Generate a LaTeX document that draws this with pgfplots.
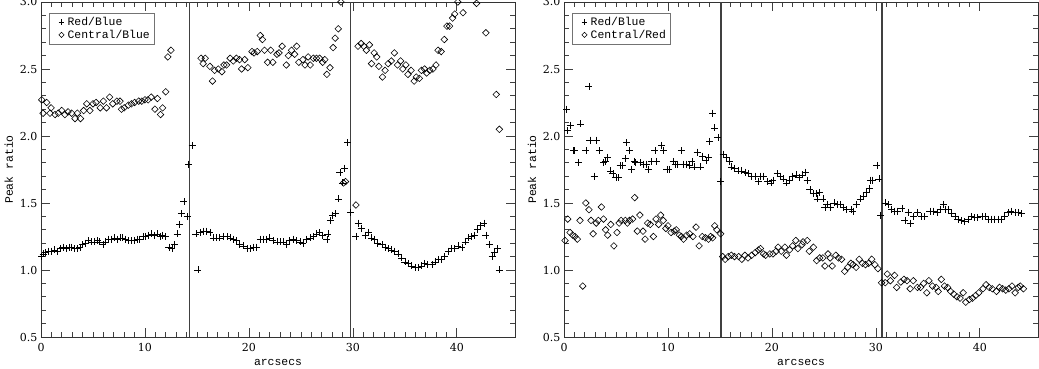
\documentclass[border=0pt]{standalone}
\usepackage{pgfplots}
\pgfplotsset{compat=1.18}
\usepackage{fontspec}
\setmainfont{Liberation Mono}
\newfontfamily\tickfont{DejaVu Serif}

\pgfplotsset{
  peak/.style={
    scale only axis, width=474pt, height=335pt,
    xmin=0, xmax=45.6, ymin=0.5, ymax=3.0,
    xtick={0,10,20,30,40}, minor x tick num=9,
    ytick={0.5,1,1.5,2,2.5,3}, minor y tick num=4,
    tick align=inside, xtick pos=both, ytick pos=both,
    major tick length=9pt, minor tick length=5pt,
    axis line style={black!80, line width=0.6pt},
    every tick/.style={black!75, line width=0.6pt},
    /pgf/number format/assume math mode=true,
    yticklabel style={/pgf/number format/.cd, fixed, fixed zerofill, precision=1},
    xticklabel style={yshift=-3pt},
    tick label style={font=\tickfont\fontsize{11}{13}\selectfont},
    label style={font=\fontsize{11.4}{13}\selectfont},
    xlabel={arcsecs}, ylabel={Peak ratio},
    xlabel style={yshift=-1pt},
    legend cell align=left,
    legend style={at={(0.017,0.967)}, anchor=north west, draw=black!55,
      font=\fontsize{11.4}{13}\selectfont, inner xsep=3pt, inner ysep=3pt,
      row sep=1pt, nodes={inner sep=1pt},
      /tikz/every even column/.append style={column sep=1pt}},
    legend image code/.code={\path (-4pt,0pt) (10pt,0pt);
      \draw[mark repeat=2,mark phase=2,#1,every mark/.append style={scale=0.8}]
      plot coordinates {(0pt,0pt)(5pt,0pt)(10pt,0pt)};},
  },
  rb/.style={only marks, mark=+, mark size=3.5pt, black, mark options={line width=0.6pt}},
  cd/.style={only marks, mark=diamond, mark size=3.3pt, black, mark options={xscale=1.33, line width=0.6pt}},
  sep/.style={black!75, line width=1.3pt, forget plot},
}

\begin{document}
\begin{tikzpicture}
% left panel
\begin{axis}[peak, at={(41pt,32pt)}, anchor=south west]
\addplot[rb] coordinates {
 (0.05,1.10)(0.2,1.12)(0.45,1.13)(0.75,1.14)(1.0,1.14)(1.3,1.15)(1.55,1.14)(1.85,1.16)
 (2.1,1.17)(2.4,1.16)(2.7,1.17)(2.95,1.17)(3.2,1.16)(3.5,1.16)(3.75,1.17)(4.0,1.19)
 (4.3,1.20)(4.55,1.22)(4.85,1.21)(5.1,1.21)(5.4,1.22)(5.65,1.21)(5.95,1.19)(6.2,1.21)
 (6.5,1.23)(6.75,1.23)(7.05,1.24)(7.3,1.23)(7.6,1.24)(7.85,1.24)(8.15,1.23)(8.4,1.22)
 (8.7,1.22)(8.95,1.22)(9.25,1.23)(9.5,1.23)(9.8,1.25)(10.05,1.25)(10.35,1.26)(10.6,1.27)
 (10.9,1.26)(11.15,1.27)(11.45,1.25)(11.7,1.26)(12.0,1.25)(12.3,1.17)(12.6,1.16)(12.85,1.19)
 (13.1,1.27)(13.35,1.34)(13.5,1.42)(13.75,1.51)(14.05,1.40)(14.2,1.79)(14.55,1.93)
 (14.9,1.27)(15.1,1.00)(15.3,1.28)(15.6,1.29)(15.9,1.29)(16.25,1.28)(16.6,1.24)(16.9,1.24)
 (17.2,1.24)(17.5,1.25)(17.9,1.25)(18.2,1.24)(18.5,1.23)(18.8,1.22)(19.1,1.19)(19.5,1.18)
 (19.8,1.16)(20.1,1.16)(20.4,1.17)(20.7,1.17)(21.1,1.23)(21.4,1.23)(21.7,1.23)(22.0,1.24)
 (22.3,1.22)(22.7,1.21)(23.0,1.21)(23.3,1.21)(23.6,1.19)(23.9,1.22)(24.3,1.23)(24.6,1.22)
 (24.9,1.21)(25.2,1.20)(25.5,1.23)(25.9,1.24)(26.2,1.25)(26.5,1.27)(26.8,1.28)(27.1,1.26)
 (27.5,1.23)(27.6,1.27)(27.85,1.37)(28.05,1.41)(28.3,1.42)(28.6,1.53)(28.75,1.73)(29.0,1.65)
 (29.2,1.76)(29.5,1.95)(29.8,1.43)
 (30.3,1.25)(30.5,1.35)(30.8,1.31)(31.2,1.26)(31.5,1.28)(31.8,1.24)(32.1,1.23)(32.4,1.20)
 (32.8,1.19)(33.1,1.17)(33.4,1.16)(33.7,1.15)(34.0,1.14)(34.4,1.12)(34.7,1.09)(35.0,1.06)
 (35.3,1.05)(35.6,1.03)(36.0,1.02)(36.3,1.02)(36.6,1.03)(36.9,1.05)(37.2,1.04)(37.6,1.04)
 (37.9,1.06)(38.2,1.08)(38.5,1.08)(38.8,1.10)(39.2,1.14)(39.5,1.16)(39.8,1.16)(40.1,1.18)
 (40.5,1.17)(40.8,1.21)(41.1,1.24)(41.4,1.25)(41.7,1.26)(42.0,1.30)(42.3,1.33)(42.6,1.35)
 (42.8,1.26)(43.1,1.19)(43.4,1.10)(43.6,1.13)(43.9,1.16)(44.1,1.00)
};
\addplot[cd] coordinates {
 (0.07,2.27)(0.2,2.17)(0.55,2.25)(0.87,2.17)(0.97,2.21)(1.35,2.16)(1.66,2.17)(1.99,2.19)
 (2.3,2.16)(2.6,2.18)(2.95,2.17)(3.27,2.13)(3.5,2.17)(3.8,2.13)(4.1,2.19)(4.4,2.24)
 (4.7,2.19)(5.0,2.24)(5.3,2.25)(5.7,2.21)(6.0,2.26)(6.3,2.21)(6.6,2.29)(6.9,2.24)
 (7.3,2.26)(7.6,2.26)(7.75,2.20)(8.0,2.21)(8.4,2.23)(8.7,2.24)(9.0,2.25)(9.4,2.26)
 (9.7,2.26)(10.0,2.27)(10.3,2.27)(10.6,2.29)(10.96,2.20)(11.2,2.28)(11.5,2.16)(11.7,2.21)
 (12.0,2.33)(12.2,2.59)(12.5,2.64)
 (15.4,2.58)(15.6,2.54)(15.8,2.58)(16.25,2.52)(16.5,2.41)(16.7,2.49)(17.05,2.50)(17.4,2.48)
 (17.6,2.53)(17.85,2.53)(18.2,2.58)(18.5,2.56)(18.8,2.58)(19.1,2.57)(19.3,2.50)(19.6,2.57)
 (19.9,2.51)(20.3,2.63)(20.5,2.62)(20.8,2.63)(21.1,2.75)(21.3,2.72)(21.5,2.64)(21.8,2.55)
 (22.1,2.64)(22.3,2.55)(22.7,2.61)(22.9,2.62)(23.2,2.67)(23.6,2.53)(23.8,2.60)(24.1,2.64)
 (24.4,2.61)(24.6,2.67)(24.8,2.55)(25.2,2.57)(25.4,2.53)(25.7,2.59)(25.9,2.53)(26.2,2.58)
 (26.5,2.58)(26.8,2.58)(27.1,2.55)(27.3,2.57)(27.5,2.46)(27.8,2.51)(28.1,2.66)(28.3,2.73)
 (28.6,2.80)(28.85,3.00)(29.1,1.65)(29.3,1.66)
 (30.3,1.485)(30.5,2.67)(30.8,2.69)(31.05,2.67)(31.3,2.64)(31.6,2.68)(31.8,2.54)(32.05,2.62)
 (32.3,2.59)(32.5,2.52)(32.85,2.44)(33.1,2.49)(33.4,2.54)(33.7,2.56)(34.0,2.62)(34.3,2.53)
 (34.6,2.56)(34.8,2.50)(35.1,2.53)(35.3,2.46)(35.6,2.49)(35.9,2.41)(36.1,2.44)(36.4,2.43)
 (36.6,2.49)(36.9,2.50)(37.1,2.47)(37.4,2.49)(37.7,2.50)(38.0,2.53)(38.2,2.64)(38.5,2.63)
 (38.8,2.72)(39.05,2.82)(39.3,2.82)(39.6,2.88)(39.8,2.91)(40.1,3.00)(40.6,2.92)(41.9,2.99)
 (42.8,2.77)(43.8,2.31)(44.1,2.05)
};
\addplot[sep] coordinates {(14.3,0.5)(14.3,3.0)};
\addplot[sep] coordinates {(29.8,0.5)(29.8,3.0)};
\legend{Red/Blue, Central/Blue}
\end{axis}
% right panel
\begin{axis}[peak, at={(564pt,32pt)}, anchor=south west]
\addplot[rb] coordinates {
 (0.26,2.20)(0.36,2.04)(0.58,2.08)(0.9,1.89)(1.0,1.89)(1.4,1.80)(1.6,2.09)(2.1,1.89)
 (2.4,2.37)(2.5,1.97)(2.9,1.70)(3.1,1.97)(3.4,1.89)(3.8,1.80)(4.0,1.81)(4.2,1.84)
 (4.5,1.74)(4.7,1.72)(5.0,1.69)(5.2,1.69)(5.4,1.78)(5.6,1.78)(5.9,1.83)(6.0,1.95)
 (6.3,1.89)(6.5,1.75)(6.8,1.81)(6.9,1.80)(7.3,1.80)(7.6,1.79)(7.9,1.79)(8.1,1.75)
 (8.4,1.81)(8.75,1.89)(8.9,1.81)(9.4,1.93)(9.55,1.89)(9.9,1.75)(10.1,1.75)(10.5,1.81)
 (10.7,1.79)(10.9,1.79)(11.3,1.89)(11.5,1.79)(11.8,1.79)(12.05,1.78)(12.3,1.81)(12.5,1.77)
 (12.8,1.88)(13.1,1.77)(13.3,1.85)(13.65,1.82)(13.9,1.84)(14.0,1.96)(14.3,2.17)(14.5,2.06)
 (14.8,1.99)(15.07,1.66)(15.3,1.865)(15.6,1.84)(15.9,1.81)(16.1,1.77)(16.4,1.76)(16.8,1.74)
 (17.1,1.74)(17.4,1.73)(17.7,1.72)(18.05,1.70)(18.4,1.70)(18.7,1.66)(18.9,1.70)(19.2,1.70)
 (19.55,1.66)(19.9,1.65)(20.1,1.67)(20.5,1.72)(20.8,1.70)(21.1,1.68)(21.4,1.65)(21.7,1.67)
 (22.0,1.70)(22.3,1.71)(22.6,1.69)(22.95,1.71)(23.2,1.73)(23.4,1.67)(23.65,1.60)(24.0,1.57)
 (24.3,1.57)(24.35,1.53)(24.55,1.58)(24.9,1.53)(25.1,1.47)(25.3,1.49)(25.6,1.47)(25.96,1.50)
 (26.3,1.49)(26.6,1.49)(26.9,1.47)(27.2,1.45)(27.6,1.45)(27.8,1.44)(28.1,1.49)(28.5,1.53)
 (28.8,1.55)(29.1,1.58)(29.4,1.61)(29.5,1.67)(29.7,1.67)(30.1,1.78)(30.3,1.68)(30.45,1.41)
 (30.9,1.50)(31.2,1.49)(31.5,1.45)(31.8,1.44)(32.1,1.44)(32.5,1.46)(32.8,1.37)(33.1,1.43)
 (33.3,1.35)(33.65,1.40)(34.0,1.43)(34.4,1.40)(34.7,1.40)(35.2,1.44)(35.5,1.44)(35.9,1.43)
 (36.2,1.45)(36.5,1.49)(36.7,1.45)(37.0,1.45)(37.3,1.42)(37.6,1.40)(37.9,1.38)(38.2,1.37)
 (38.55,1.36)(38.9,1.38)(39.2,1.40)(39.5,1.39)(39.8,1.39)(40.2,1.40)(40.5,1.40)(40.8,1.38)
 (41.1,1.38)(41.4,1.38)(41.8,1.38)(42.1,1.38)(42.4,1.40)(42.7,1.43)(43.0,1.44)(43.4,1.43)
 (43.7,1.43)(44.0,1.42)
};
\addplot[cd] coordinates {
 (0.1,1.22)(0.36,1.38)(0.58,1.28)(0.83,1.26)(1.06,1.25)(1.28,1.23)(1.54,1.37)(1.8,0.88)
 (2.1,1.50)(2.4,1.45)(2.6,1.37)(2.8,1.27)(3.1,1.35)(3.3,1.37)(3.6,1.47)(3.8,1.38)
 (4.0,1.30)(4.2,1.26)(4.5,1.34)(4.8,1.18)(5.1,1.28)(5.3,1.35)(5.5,1.37)(5.9,1.37)
 (6.1,1.35)(6.3,1.37)(6.6,1.38)(6.8,1.54)(7.05,1.29)(7.3,1.41)(7.6,1.29)(7.8,1.23)
 (8.05,1.35)(8.3,1.34)(8.6,1.25)(8.85,1.38)(9.1,1.34)(9.3,1.41)(9.55,1.37)(9.8,1.31)
 (10.0,1.33)(10.3,1.28)(10.6,1.29)(10.8,1.30)(11.1,1.26)(11.3,1.25)(11.5,1.23)(11.8,1.26)
 (12.1,1.27)(12.4,1.25)(12.7,1.32)(13.0,1.18)(13.3,1.25)(13.6,1.24)(13.9,1.23)(14.1,1.25)
 (14.3,1.24)(14.5,1.33)(14.7,1.30)(15.07,1.27)
 (15.26,1.10)(15.5,1.08)(15.8,1.10)(16.1,1.11)(16.4,1.10)(16.8,1.10)(17.1,1.08)(17.4,1.11)
 (17.7,1.09)(18.05,1.11)(18.4,1.13)(18.7,1.15)(18.9,1.16)(19.2,1.12)(19.4,1.11)(19.8,1.12)
 (20.1,1.12)(20.4,1.14)(20.6,1.17)(20.9,1.14)(21.25,1.17)(21.4,1.11)(21.7,1.15)(22.0,1.18)
 (22.3,1.22)(22.5,1.16)(22.9,1.19)(23.0,1.21)(23.4,1.22)(23.6,1.14)(24.0,1.17)(24.3,1.07)
 (24.6,1.09)(24.9,1.09)(25.1,1.03)(25.4,1.12)(25.6,1.09)(25.8,1.03)(26.15,1.11)(26.4,1.09)
 (26.7,1.08)(27.0,0.99)(27.3,1.02)(27.6,1.05)(27.8,1.04)(28.1,1.02)(28.4,1.08)(28.7,1.05)
 (29.0,1.04)(29.3,1.05)(29.6,1.08)(29.9,1.04)(30.2,1.01)
 (30.55,0.905)(30.9,0.905)(31.1,0.97)(31.4,0.92)(31.8,0.96)(32.0,0.87)(32.4,0.91)(32.7,0.93)
 (33.0,0.92)(33.3,0.86)(33.6,0.92)(34.0,0.87)(34.3,0.87)(34.6,0.90)(34.9,0.83)(35.1,0.92)
 (35.45,0.88)(35.8,0.87)(36.0,0.84)(36.3,0.93)(36.6,0.88)(36.9,0.87)(37.2,0.84)(37.5,0.82)
 (37.8,0.80)(38.1,0.79)(38.4,0.83)(38.65,0.76)(39.0,0.78)(39.3,0.79)(39.6,0.81)(39.9,0.83)
 (40.3,0.86)(40.6,0.89)(40.9,0.87)(41.2,0.86)(41.6,0.84)(41.9,0.87)(42.2,0.86)(42.5,0.85)
 (42.8,0.86)(43.1,0.88)(43.4,0.83)(43.7,0.87)(43.9,0.88)(44.2,0.86)
};
\addplot[sep] coordinates {(15.1,0.5)(15.1,3.0)};
\addplot[sep] coordinates {(30.6,0.5)(30.6,3.0)};
\legend{Red/Blue, Central/Red}
\end{axis}
\pgfresetboundingbox
\path[use as bounding box] (0pt,0pt) rectangle (1039pt,369pt);
\end{tikzpicture}
\end{document}
